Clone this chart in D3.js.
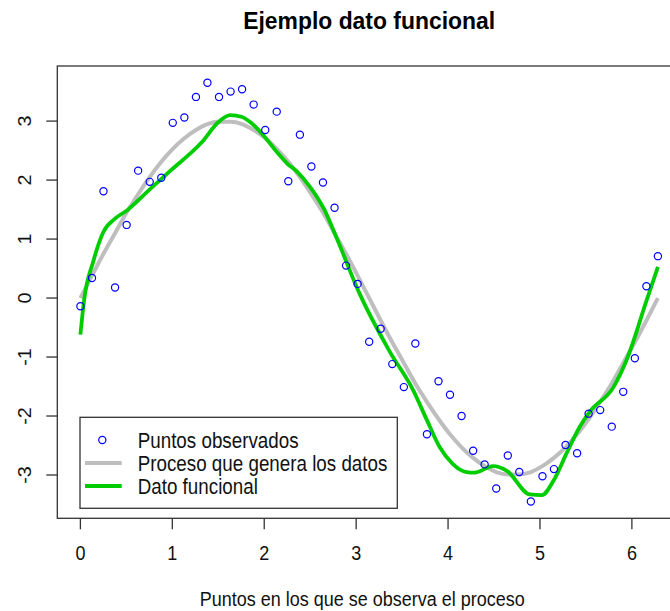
<!DOCTYPE html>
<html>
<head>
  <title>Ejemplo dato funcional</title>
  <meta charset="utf-8">
<style>
  body { margin: 0; background: #fff; }
  svg { display: block; font-family: "Liberation Sans", Arial, sans-serif; }
  .box { fill: none; stroke: #333; stroke-width: 1.3; }
  .tick { stroke: #333; stroke-width: 1.3; }
</style>
</head>
<body>
<svg width="670" height="611"></svg>
<script src="https://d3js.org/d3.v7.min.js"></script>
<script>

// observation points (51 points from 0 to 2*pi)
var xObs = [0, 0.126, 0.251, 0.377, 0.503, 0.628, 0.754, 0.880, 1.005, 1.131,
  1.257, 1.382, 1.508, 1.634, 1.759, 1.885, 2.011, 2.136, 2.262, 2.388,
  2.513, 2.639, 2.765, 2.890, 3.016, 3.142, 3.267, 3.393, 3.519, 3.644,
  3.770, 3.896, 4.021, 4.147, 4.273, 4.398, 4.524, 4.650, 4.775, 4.901,
  5.027, 5.152, 5.278, 5.404, 5.529, 5.655, 5.781, 5.906, 6.032, 6.158, 6.283];

// observed values (blue circles)
var yObs = [-0.14, 0.34, 1.81, 0.18, 1.24, 2.16, 1.97, 2.04, 2.97, 3.06,
  3.41, 3.65, 3.41, 3.50, 3.54, 3.28, 2.85, 3.16, 1.98, 2.77,
  2.23, 1.96, 1.53, 0.55, 0.24, -0.74, -0.52, -1.12, -1.51, -0.77,
  -2.31, -1.41, -1.64, -2.00, -2.59, -2.82, -3.23, -2.67, -2.95, -3.45,
  -3.02, -2.90, -2.49, -2.63, -1.96, -1.90, -2.18, -1.59, -1.02, 0.20, 0.71];

// generating process (gray curve)
var yProc = [0, 0.38, 0.75, 1.10, 1.45, 1.76, 2.05, 2.31, 2.53, 2.71,
  2.85, 2.95, 2.99, 2.99, 2.95, 2.85, 2.71, 2.53, 2.31, 2.05,
  1.76, 1.45, 1.10, 0.75, 0.38, 0, -0.38, -0.75, -1.10, -1.45,
  -1.76, -2.05, -2.31, -2.53, -2.71, -2.85, -2.95, -2.99, -2.99, -2.95,
  -2.85, -2.71, -2.53, -2.31, -2.05, -1.76, -1.45, -1.10, -0.75, -0.38, 0];

// functional datum (green curve)
var xFun = [0, 0.04, 0.14, 0.25, 0.38, 0.51, 0.76, 0.98, 1.32, 1.50,
  1.63, 1.76, 1.85, 1.99, 2.14, 2.25, 2.36, 2.50, 2.65, 2.79,
  3.03, 3.37, 3.62, 3.77, 3.91, 4.05, 4.20, 4.29, 4.49, 4.64,
  4.89, 5.02, 5.15, 5.29, 5.43, 5.54, 5.80, 5.94, 6.16, 6.283];
var yFun = [-0.62, -0.04, 0.62, 1.12, 1.35, 1.49, 1.85, 2.16, 2.64, 2.98,
  3.10, 3.07, 2.98, 2.76, 2.47, 2.28, 2.14, 1.88, 1.51, 1.01,
  0.10, -0.92, -1.56, -2.07, -2.53, -2.81, -2.95, -2.96, -2.85, -2.93,
  -3.33, -3.34, -3.09, -2.63, -2.19, -1.93, -1.51, -1.06, -0.04, 0.53];

var xTicks = [0, 1, 2, 3, 4, 5, 6];
var yTicks = [-3, -2, -1, 0, 1, 2, 3];
var legendLabels = ["Puntos observados", "Proceso que genera los datos", "Dato funcional"];

var svg = d3.select("svg");

// plot region (R style, right edge runs past the picture)
var plotL = 57.3, plotR = 681, plotT = 66, plotB = 518.3;

// R extends the data range by 4% on each side
function rRange(ext) {
  var d = (ext[1] - ext[0]) * 0.04;
  return [ext[0] - d, ext[1] + d];
}
var x = d3.scaleLinear().domain(rRange(d3.extent(xObs))).range([plotL, plotR]);
var y = d3.scaleLinear().domain(rRange(d3.extent(yObs))).range([plotB, plotT]);

// gray process curve
var procLine = d3.line()
    .x(function(d, i) { return x(xObs[i]); })
    .y(function(d) { return y(d); })
    .curve(d3.curveMonotoneX);
svg.append("path")
    .attr("d", procLine(yProc))
    .attr("fill", "none")
    .attr("stroke", "#bebebe")
    .attr("stroke-width", 4);

// green functional datum
var funLine = d3.line()
    .x(function(d, i) { return x(xFun[i]); })
    .y(function(d) { return y(d); })
    .curve(d3.curveMonotoneX);
svg.append("path")
    .attr("d", funLine(yFun))
    .attr("fill", "none")
    .attr("stroke", "#00cd00")
    .attr("stroke-width", 3.8)
    .attr("stroke-linejoin", "round");

// observed points
svg.append("g").selectAll("circle")
    .data(yObs)
    .enter().append("circle")
      .attr("cx", function(d, i) { return x(xObs[i]); })
      .attr("cy", function(d) { return y(d); })
      .attr("r", 3.6)
      .attr("fill", "none")
      .attr("stroke", "#0000ff")
      .attr("stroke-width", 1.2);

// box
svg.append("rect")
    .attr("class", "box")
    .attr("x", plotL).attr("y", plotT)
    .attr("width", plotR - plotL).attr("height", plotB - plotT);

// x axis
var gx = svg.append("g");
gx.selectAll("line")
    .data(xTicks)
    .enter().append("line")
      .attr("class", "tick")
      .attr("x1", function(d) { return x(d); })
      .attr("x2", function(d) { return x(d); })
      .attr("y1", plotB).attr("y2", plotB + 11);
gx.selectAll("text")
    .data(xTicks)
    .enter().append("text")
      .attr("transform", function(d) { return "translate(" + x(d) + ",560) scale(1,1.1)"; })
      .attr("text-anchor", "middle")
      .attr("font-size", 18)
      .attr("fill", "#111")
      .text(function(d) { return d; });

// y axis
var gy = svg.append("g");
gy.selectAll("line")
    .data(yTicks)
    .enter().append("line")
      .attr("class", "tick")
      .attr("x1", plotL - 11).attr("x2", plotL)
      .attr("y1", function(d) { return y(d); })
      .attr("y2", function(d) { return y(d); });
gy.selectAll("text")
    .data(yTicks)
    .enter().append("text")
      .attr("transform", function(d) { return "translate(31," + y(d) + ") rotate(-90) scale(1.1,1)"; })
      .attr("text-anchor", "middle")
      .attr("font-size", 18)
      .attr("fill", "#111")
      .text(function(d) { return d; });

// titles
var cx = (plotL + plotR) / 2;
svg.append("text")
    .attr("transform", "translate(" + cx + ",29) scale(1,1.08)")
    .attr("text-anchor", "middle")
    .attr("font-size", 22.9)
    .attr("font-weight", "bold")
    .attr("fill", "#000")
    .text("Ejemplo dato funcional");
svg.append("text")
    .attr("transform", "translate(" + (cx - 7) + ",606) scale(1,1.1)")
    .attr("text-anchor", "middle")
    .attr("font-size", 18)
    .attr("fill", "#111")
    .text("Puntos en los que se observa el proceso");

// legend
var lg = svg.append("g");
lg.append("rect")
    .attr("class", "box")
    .attr("x", 80).attr("y", 417.3)
    .attr("width", 317.3).attr("height", 91);
lg.append("circle")
    .attr("cx", 102.3).attr("cy", 440).attr("r", 3.6)
    .attr("fill", "none").attr("stroke", "#0000ff").attr("stroke-width", 1.2);
lg.append("line")
    .attr("x1", 85).attr("x2", 121.7).attr("y1", 463).attr("y2", 463)
    .attr("stroke", "#bebebe").attr("stroke-width", 4);
lg.append("line")
    .attr("x1", 85).attr("x2", 121.7).attr("y1", 486).attr("y2", 486)
    .attr("stroke", "#00cd00").attr("stroke-width", 3.8);
lg.selectAll("text")
    .data(legendLabels)
    .enter().append("text")
      .attr("transform", function(d, i) { return "translate(137.7," + (447.5 + i * 23) + ") scale(1,1.15)"; })
      .attr("font-size", 18.8)
      .attr("fill", "#111")
      .text(function(d) { return d; });

</script>
</body>
</html>
